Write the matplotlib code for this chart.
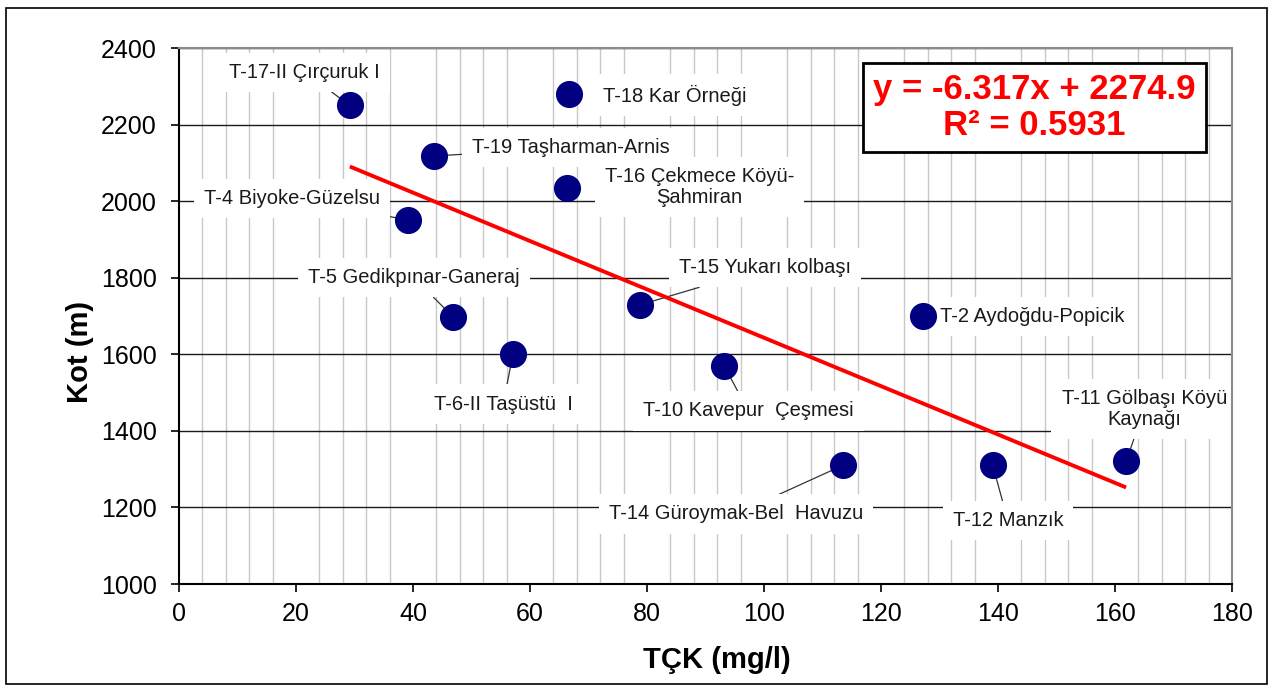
import matplotlib
matplotlib.use("Agg")
import matplotlib.pyplot as plt
import numpy as np
from matplotlib.patches import Rectangle

plt.rcParams['font.family'] = ['Liberation Sans', 'DejaVu Sans']

# Data
names = ["T-17-II Çırçuruk I", "T-18 Kar Örneği", "T-19 Taşharman-Arnis",
         "T-16 Çekmece Köyü-\nŞahmiran", "T-4 Biyoke-Güzelsu", "T-5 Gedikpınar-Ganeraj",
         "T-6-II Taşüstü  I", "T-15 Yukarı kolbaşı", "T-10 Kavepur  Çeşmesi",
         "T-2 Aydoğdu-Popicik", "T-14 Güroymak-Bel  Havuzu", "T-12 Manzık",
         "T-11 Gölbaşı Köyü\nKaynağı"]
tck = [29.2, 66.7, 43.6, 66.3, 39.1, 46.8, 57.1, 78.8, 93.2, 127.2, 113.5, 139.1, 161.9]
kot = [2250, 2280, 2118, 2035, 1951, 1698, 1601, 1729, 1570, 1700, 1310, 1310, 1320]
label_x = [21.5, 84.8, 67.0, 89.0, 19.3, 40.2, 55.4, 100.2, 97.3, 145.8, 95.2, 141.7, 165.0]
label_y = [2337, 2277, 2139, 2037, 2006, 1800, 1470, 1826, 1452, 1698, 1183, 1165, 1457]
has_leader = [True, False, True, False, True, True, True, True, True, False, True, True, True]
slope = -6.317
intercept = 2274.9
r2 = 0.5931

fig = plt.figure(figsize=(12.71, 6.89), dpi=100)
fig.patches.append(Rectangle((6/1271, 1 - 684/689), 1261/1271, 676/689,
                             transform=fig.transFigure, fill=False, ec='black', lw=1.2))
ax = fig.add_axes([179/1271, 1 - 584/689, 1053/1271, 536/689])

ax.set_xlim(0, 180)
ax.set_ylim(1000, 2400)
ax.set_xticks(np.arange(0, 181, 20))
ax.set_yticks(np.arange(1000, 2401, 200))
ax.set_xticks(np.arange(0, 181, 4), minor=True)
ax.tick_params(axis='both', which='major', direction='out', length=6, width=1.2,
               labelsize=18, colors='black')
ax.tick_params(axis='x', which='major', pad=7)
ax.tick_params(axis='y', which='major', pad=10)
ax.tick_params(axis='x', which='minor', length=0)
ax.grid(True, axis='x', which='minor', color='#c8c8c8', lw=1.0, zorder=0)
ax.grid(True, axis='y', which='major', color='#1a1a1a', lw=1.0, zorder=0)
ax.grid(False, axis='x', which='major')
ax.set_axisbelow(True)
for s in ['left', 'bottom']:
    ax.spines[s].set_color('black')
    ax.spines[s].set_linewidth(1.5)
for s in ['top', 'right']:
    ax.spines[s].set_color('#8c8c8c')
    ax.spines[s].set_linewidth(1.5)

ax.set_xlabel("TÇK (mg/l)", fontsize=21, fontweight='bold', va='center')
ax.xaxis.set_label_coords((717 - 179) / 1053, (584 - 660) / 536)
ax.set_ylabel("Kot (m)", fontsize=21, fontweight='bold', va='center')
ax.yaxis.set_label_coords((80 - 179) / 1053, (584 - 352) / 536)

# labels
for n, px, py, lx, ly, ld in zip(names, tck, kot, label_x, label_y, has_leader):
    ax.annotate(n, xy=(px, py), xytext=(lx, ly), textcoords='data',
                ha='center', va='center', fontsize=14.5, color='#1a1a1a',
                multialignment='center', linespacing=1.15,
                bbox=dict(boxstyle='square,pad=0.5', fc='white', ec='none'),
                arrowprops=(dict(arrowstyle='-', color='#333333', lw=0.9,
                                 shrinkA=0, shrinkB=0) if ld else None),
                zorder=2)

# trendline
xs = np.array([min(tck), max(tck)])
ax.plot(xs, slope * xs + intercept, color='red', lw=2.8, zorder=3, solid_capstyle='butt')

# points
ax.plot(tck, kot, 'o', color='#000080', markersize=18.5, mec='#000080', zorder=4, clip_on=False)

ax.text((1034.5 - 179) / 1053, (584 - 107.5) / 536, f"y = {slope}x + {intercept}\nR² = {r2}",
        transform=ax.transAxes,
        ha='center', va='center', fontsize=25, fontweight='bold', color='red',
        multialignment='center', linespacing=1.1, zorder=5,
        bbox=dict(boxstyle='square,pad=0.3', fc='white', ec='black', lw=2))

fig.savefig("out.png", dpi=100)
